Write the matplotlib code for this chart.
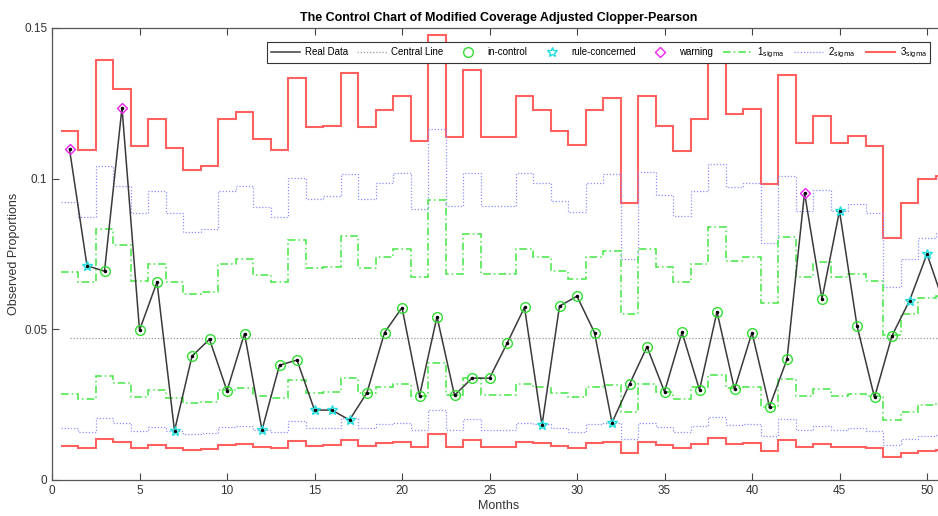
import numpy as np
import matplotlib
matplotlib.use("Agg")
import matplotlib.pyplot as plt
from matplotlib.lines import Line2D

plt.rcParams['font.family'] = ['Liberation Sans', 'DejaVu Sans']

months = list(range(1, 52))
real_data = [0.1098, 0.0711, 0.0693, 0.1236, 0.0497, 0.0657, 0.0163, 0.0411, 0.0467, 0.0296,
             0.0486, 0.0166, 0.0381, 0.0398, 0.0232, 0.0232, 0.0199, 0.0290, 0.0489, 0.0572,
             0.0279, 0.0542, 0.0281, 0.0338, 0.0338, 0.0453, 0.0573, 0.0182, 0.0577, 0.0610,
             0.0489, 0.0190, 0.0318, 0.0442, 0.0293, 0.0490, 0.0299, 0.0558, 0.0301, 0.0489,
             0.0243, 0.0401, 0.0953, 0.0601, 0.0893, 0.0512, 0.0274, 0.0479, 0.0595, 0.0750,
             0.0580]
# status: 0 in-control, 1 rule-concerned, 2 warning
status = [2, 1, 0, 2, 0, 0, 1, 0, 0, 0,
          0, 1, 0, 0, 1, 1, 1, 0, 0, 0,
          0, 0, 0, 0, 0, 0, 0, 1, 0, 0,
          0, 1, 0, 0, 0, 0, 0, 0, 0, 0,
          0, 0, 2, 0, 1, 0, 0, 0, 1, 1,
          0]
central = 0.0471

ucl3 = [0.1158, 0.1094, 0.1393, 0.1299, 0.1108, 0.1198, 0.1102, 0.1030, 0.1043, 0.1198,
        0.1221, 0.1133, 0.1094, 0.1334, 0.1172, 0.1176, 0.1352, 0.1172, 0.1229, 0.1274,
        0.1124, 0.1476, 0.1139, 0.1360, 0.1139, 0.1139, 0.1274, 0.1229, 0.1159, 0.1113,
        0.1229, 0.1268, 0.0920, 0.1274, 0.1176, 0.1092, 0.1198, 0.1430, 0.1213, 0.1231,
        0.0981, 0.1343, 0.1117, 0.1207, 0.1117, 0.1142, 0.1108, 0.0804, 0.0920, 0.0999,
        0.1010]
ucl2 = [0.0923, 0.0873, 0.1043, 0.0976, 0.0885, 0.0959, 0.0885, 0.0824, 0.0832, 0.0959,
        0.0976, 0.0905, 0.0873, 0.1001, 0.0934, 0.0942, 0.1015, 0.0934, 0.0984, 0.1019,
        0.0899, 0.1166, 0.0910, 0.1019, 0.0910, 0.0910, 0.1019, 0.0984, 0.0925, 0.0888,
        0.0984, 0.1015, 0.0735, 0.1021, 0.0945, 0.0876, 0.0960, 0.1050, 0.0971, 0.0984,
        0.0787, 0.1009, 0.0893, 0.0964, 0.0893, 0.0915, 0.0887, 0.0641, 0.0735, 0.0802,
        0.0820]
ucl1 = [0.0691, 0.0656, 0.0832, 0.0779, 0.0661, 0.0716, 0.0658, 0.0617, 0.0625, 0.0716,
        0.0732, 0.0680, 0.0656, 0.0798, 0.0702, 0.0708, 0.0809, 0.0702, 0.0739, 0.0765,
        0.0674, 0.0929, 0.0682, 0.0816, 0.0682, 0.0682, 0.0765, 0.0741, 0.0694, 0.0667,
        0.0739, 0.0761, 0.0551, 0.0765, 0.0708, 0.0656, 0.0716, 0.0838, 0.0727, 0.0739,
        0.0586, 0.0805, 0.0674, 0.0724, 0.0674, 0.0683, 0.0661, 0.0481, 0.0551, 0.0603,
        0.0610]
lcl1 = [0.0285, 0.0269, 0.0345, 0.0323, 0.0276, 0.0299, 0.0273, 0.0254, 0.0260, 0.0299,
        0.0304, 0.0280, 0.0271, 0.0332, 0.0290, 0.0293, 0.0339, 0.0290, 0.0310, 0.0317,
        0.0279, 0.0387, 0.0282, 0.0339, 0.0282, 0.0282, 0.0317, 0.0307, 0.0288, 0.0276,
        0.0307, 0.0315, 0.0227, 0.0317, 0.0293, 0.0269, 0.0310, 0.0348, 0.0304, 0.0307,
        0.0243, 0.0334, 0.0279, 0.0302, 0.0279, 0.0285, 0.0279, 0.0199, 0.0227, 0.0249,
        0.0255]
lcl2 = [0.0171, 0.0160, 0.0205, 0.0190, 0.0163, 0.0177, 0.0163, 0.0153, 0.0155, 0.0177,
        0.0180, 0.0166, 0.0160, 0.0197, 0.0171, 0.0173, 0.0205, 0.0171, 0.0186, 0.0190,
        0.0166, 0.0232, 0.0166, 0.0202, 0.0166, 0.0166, 0.0190, 0.0186, 0.0171, 0.0160,
        0.0186, 0.0189, 0.0135, 0.0190, 0.0175, 0.0160, 0.0179, 0.0210, 0.0182, 0.0186,
        0.0146, 0.0201, 0.0166, 0.0180, 0.0166, 0.0171, 0.0163, 0.0116, 0.0135, 0.0147,
        0.0150]
lcl3 = [0.0113, 0.0105, 0.0135, 0.0127, 0.0107, 0.0116, 0.0107, 0.0100, 0.0102, 0.0116,
        0.0119, 0.0110, 0.0107, 0.0130, 0.0113, 0.0117, 0.0133, 0.0113, 0.0122, 0.0125,
        0.0110, 0.0153, 0.0110, 0.0133, 0.0110, 0.0110, 0.0125, 0.0122, 0.0113, 0.0107,
        0.0122, 0.0125, 0.0088, 0.0125, 0.0116, 0.0107, 0.0118, 0.0138, 0.0119, 0.0122,
        0.0096, 0.0133, 0.0110, 0.0118, 0.0110, 0.0111, 0.0107, 0.0077, 0.0088, 0.0096,
        0.0098]

x_ticks = [0, 5, 10, 15, 20, 25, 30, 35, 40, 45, 50]
y_ticks = [0, 0.05, 0.1, 0.15]
y_ticklabels = ['0', '0.05', '0.1', '0.15']
legend_labels = ['Real Data', 'Central Line', 'in-control', 'rule-concerned', 'warning',
                 '1$_{\\mathrm{sigma}}$', '2$_{\\mathrm{sigma}}$', '3$_{\\mathrm{sigma}}$']

fig = plt.figure(figsize=(9.38, 5.16), dpi=100)
ax = fig.add_axes([52 / 938, 36 / 516, (17.5 * 51) / 938, 452 / 516])

m = np.array(months)
edges = np.append(m - 0.5, m[-1] + 0.5)

red = '#FF6060'
blue = '#8F8FFF'
green = '#44E644'
red_ls, blue_ls, green_ls = '-', (0, (1, 1.5)), (0, (5, 2, 1, 2))

ax.stairs(ucl3, edges, color=red, lw=1.5, ls=red_ls, zorder=2, baseline=None)
ax.stairs(lcl3, edges, color=red, lw=1.5, ls=red_ls, zorder=2, baseline=None)
ax.stairs(ucl2, edges, color=blue, lw=0.9, ls=blue_ls, zorder=2, baseline=None)
ax.stairs(lcl2, edges, color=blue, lw=0.9, ls=blue_ls, zorder=2, baseline=None)
ax.stairs(ucl1, edges, color=green, lw=1.1, ls=green_ls, zorder=2, baseline=None)
ax.stairs(lcl1, edges, color=green, lw=1.1, ls=green_ls, zorder=2, baseline=None)

ax.plot(m, [central] * len(m), color='#999999', lw=0.9, ls=(0, (1, 1.5)), zorder=3)

rd = np.array(real_data)
st = np.array(status)
ax.plot(m, rd, color='#3a3a3a', lw=1.1, marker='.', ms=3, mfc='black', mec='black', zorder=4)
ax.plot(m[st == 0], rd[st == 0], ls='none', marker='o', ms=7, mfc='none', mec='#33dd33', mew=1.0, zorder=5)
ax.plot(m[st == 1], rd[st == 1], ls='none', marker='*', ms=7, mfc='none', mec='#22dddd', mew=1.0, zorder=5)
ax.plot(m[st == 2], rd[st == 2], ls='none', marker='D', ms=5, mfc='none', mec='#ee22ee', mew=1.0, zorder=5)

ax.set_xlim(0, 51)
ax.set_ylim(0, 0.15)
ax.set_xticks(x_ticks)
ax.set_yticks(y_ticks)
ax.set_yticklabels(y_ticklabels)
ax.tick_params(direction='in', top=True, right=True, labelsize=8.5, color='#444444', labelcolor='#333333', length=5)
for s in ax.spines.values():
    s.set_color('#555555')
    s.set_linewidth(0.9)

ax.set_title('The Control Chart of Modified Coverage Adjusted Clopper-Pearson', fontsize=9, fontweight='bold', pad=5)
ax.set_xlabel('Months', fontsize=9, labelpad=2, color='#333333')
ax.set_ylabel('Observed Proportions', fontsize=9, color='#333333')
ax.yaxis.set_label_coords(-0.036, 0.5)

legend_handles = [
    Line2D([], [], color='#3a3a3a', lw=1.1),
    Line2D([], [], color='#999999', lw=0.9, ls=(0, (1, 1.5))),
    Line2D([], [], ls='none', marker='o', ms=7, mfc='none', mec='#33dd33', mew=1.0),
    Line2D([], [], ls='none', marker='*', ms=7, mfc='none', mec='#22dddd', mew=1.0),
    Line2D([], [], ls='none', marker='D', ms=5, mfc='none', mec='#ee22ee', mew=1.0),
    Line2D([], [], color=green, lw=1.1, ls=green_ls),
    Line2D([], [], color=blue, lw=0.9, ls=blue_ls),
    Line2D([], [], color=red, lw=1.5, ls=red_ls),
]
leg = ax.legend(legend_handles, legend_labels, ncol=8, loc='upper right',
                bbox_to_anchor=(0.9897, 0.980),
                fontsize=7, frameon=True, fancybox=False, edgecolor='#333333', framealpha=1,
                handlelength=3.0, handletextpad=0.5, columnspacing=1.0, borderpad=0.35)
leg.get_frame().set_linewidth(0.8)
leg.set_zorder(10)

fig.savefig('out.png', dpi=100)
